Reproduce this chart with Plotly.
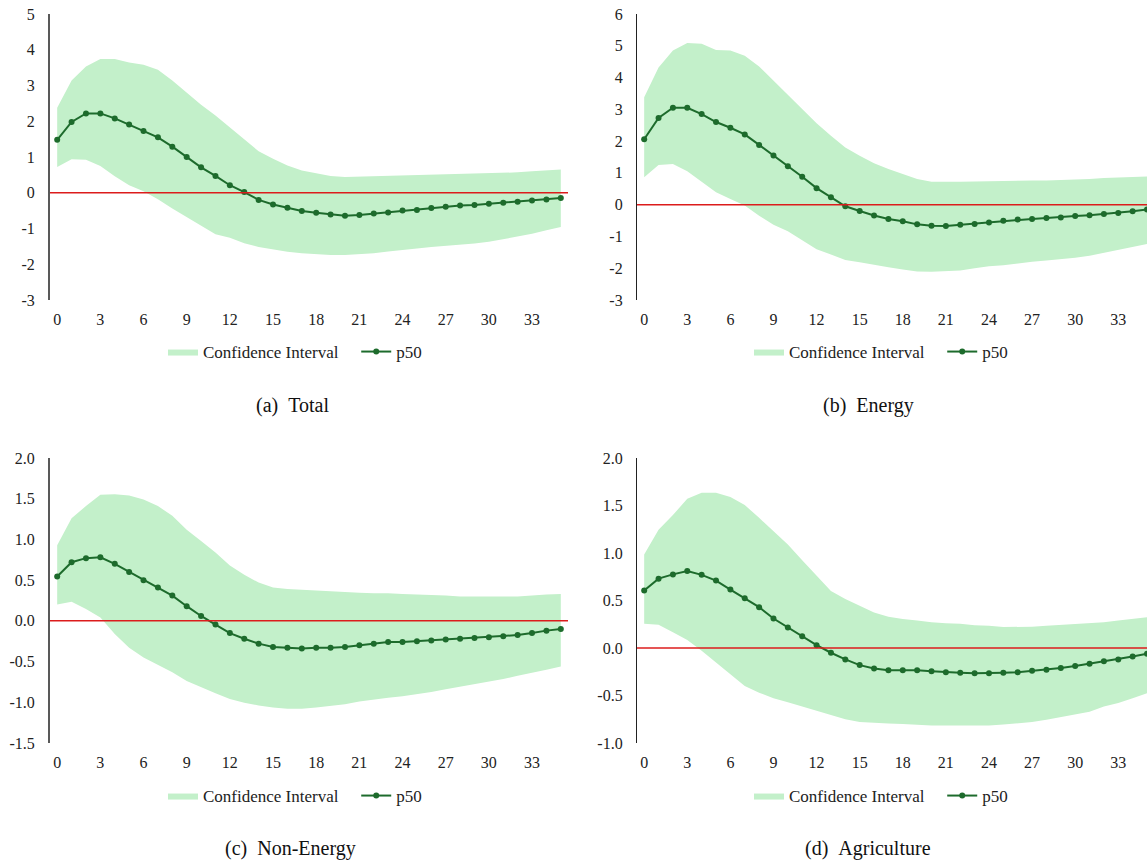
import plotly.graph_objects as go

periods = list(range(36))
tick_vals = list(range(0, 34, 3))

total_yticks = [-3, -2, -1, 0, 1, 2, 3, 4, 5]
total_ylabels = ["-3", "-2", "-1", "0", "1", "2", "3", "4", "5"]
energy_yticks = [-3, -2, -1, 0, 1, 2, 3, 4, 5, 6]
energy_ylabels = ["-3", "-2", "-1", "0", "1", "2", "3", "4", "5", "6"]
nonenergy_yticks = [-1.5, -1.0, -0.5, 0.0, 0.5, 1.0, 1.5, 2.0]
nonenergy_ylabels = ["-1.5", "-1.0", "-0.5", "0.0", "0.5", "1.0", "1.5", "2.0"]
agri_yticks = [-1.0, -0.5, 0.0, 0.5, 1.0, 1.5, 2.0]
agri_ylabels = ["-1.0", "-0.5", "0.0", "0.5", "1.0", "1.5", "2.0"]

total_p50 = [1.48, 1.98, 2.22, 2.22, 2.08, 1.91, 1.73, 1.55, 1.29, 1.00, 0.71, 0.47, 0.21, 0.02,
             -0.20, -0.33, -0.42, -0.51, -0.56, -0.61, -0.64, -0.62, -0.58, -0.55, -0.50, -0.48,
             -0.43, -0.39, -0.36, -0.34, -0.31, -0.28, -0.25, -0.22, -0.19, -0.15]
total_hi = [2.38, 3.14, 3.53, 3.74, 3.74, 3.64, 3.58, 3.44, 3.14, 2.81, 2.46, 2.16, 1.82, 1.48,
            1.16, 0.95, 0.76, 0.62, 0.55, 0.47, 0.44, 0.45, 0.46, 0.47, 0.48, 0.49, 0.50, 0.51,
            0.52, 0.53, 0.54, 0.55, 0.57, 0.60, 0.62, 0.65]
total_lo = [0.72, 0.94, 0.92, 0.75, 0.46, 0.21, 0.04, -0.18, -0.44, -0.68, -0.93, -1.16, -1.26,
            -1.41, -1.52, -1.59, -1.65, -1.69, -1.72, -1.74, -1.74, -1.72, -1.69, -1.64, -1.59,
            -1.56, -1.52, -1.49, -1.46, -1.42, -1.37, -1.30, -1.23, -1.15, -1.05, -0.96]

energy_p50 = [2.06, 2.73, 3.05, 3.05, 2.85, 2.60, 2.42, 2.21, 1.88, 1.55, 1.21, 0.88, 0.52, 0.23,
              -0.05, -0.20, -0.34, -0.45, -0.52, -0.62, -0.66, -0.67, -0.63, -0.61, -0.56, -0.51,
              -0.47, -0.45, -0.42, -0.40, -0.36, -0.33, -0.29, -0.26, -0.21, -0.15]
energy_hi = [3.38, 4.32, 4.85, 5.09, 5.06, 4.87, 4.85, 4.69, 4.35, 3.90, 3.43, 3.01, 2.56, 2.17,
             1.80, 1.54, 1.30, 1.12, 0.97, 0.81, 0.72, 0.71, 0.72, 0.73, 0.74, 0.76, 0.76, 0.76,
             0.76, 0.77, 0.79, 0.81, 0.84, 0.86, 0.88, 0.89]
energy_lo = [0.86, 1.25, 1.28, 1.05, 0.72, 0.39, 0.18, -0.03, -0.35, -0.63, -0.84, -1.13, -1.40,
             -1.57, -1.74, -1.81, -1.90, -1.97, -2.04, -2.10, -2.11, -2.09, -2.07, -2.00, -1.94,
             -1.91, -1.85, -1.80, -1.76, -1.72, -1.67, -1.61, -1.52, -1.43, -1.32, -1.24]

nonenergy_p50 = [0.545, 0.72, 0.77, 0.78, 0.70, 0.60, 0.50, 0.41, 0.31, 0.18, 0.06, -0.045, -0.15,
                 -0.22, -0.28, -0.32, -0.33, -0.34, -0.33, -0.33, -0.32, -0.30, -0.28, -0.26, -0.26,
                 -0.25, -0.24, -0.23, -0.22, -0.21, -0.20, -0.19, -0.175, -0.15, -0.12, -0.10]
nonenergy_hi = [0.93, 1.26, 1.41, 1.55, 1.555, 1.54, 1.49, 1.41, 1.29, 1.12, 0.98, 0.84, 0.68, 0.565,
                0.47, 0.41, 0.39, 0.38, 0.37, 0.36, 0.355, 0.345, 0.34, 0.34, 0.33, 0.325, 0.32,
                0.31, 0.30, 0.30, 0.30, 0.30, 0.30, 0.31, 0.325, 0.33]
nonenergy_lo = [0.20, 0.235, 0.145, 0.04, -0.16, -0.33, -0.45, -0.545, -0.63, -0.74, -0.82, -0.89,
                -0.96, -1.005, -1.04, -1.065, -1.08, -1.08, -1.065, -1.045, -1.025, -0.99, -0.965,
                -0.945, -0.925, -0.90, -0.875, -0.84, -0.81, -0.78, -0.75, -0.715, -0.675, -0.64,
                -0.60, -0.56]

agri_p50 = [0.605, 0.73, 0.775, 0.81, 0.77, 0.71, 0.615, 0.525, 0.43, 0.31, 0.215, 0.125, 0.03,
            -0.05, -0.12, -0.18, -0.215, -0.235, -0.235, -0.235, -0.245, -0.255, -0.26, -0.265,
            -0.265, -0.26, -0.255, -0.24, -0.23, -0.21, -0.19, -0.165, -0.14, -0.12, -0.09, -0.06]
agri_hi = [0.985, 1.245, 1.40, 1.57, 1.635, 1.635, 1.59, 1.505, 1.37, 1.23, 1.09, 0.925, 0.76, 0.60,
           0.515, 0.445, 0.375, 0.33, 0.305, 0.29, 0.27, 0.26, 0.255, 0.24, 0.235, 0.22, 0.22, 0.225,
           0.235, 0.245, 0.255, 0.26, 0.27, 0.29, 0.305, 0.325]
agri_lo = [0.255, 0.245, 0.165, 0.085, -0.03, -0.155, -0.285, -0.40, -0.47, -0.53, -0.57, -0.615,
           -0.655, -0.70, -0.75, -0.78, -0.79, -0.795, -0.80, -0.81, -0.815, -0.815, -0.815, -0.815,
           -0.815, -0.805, -0.795, -0.78, -0.755, -0.725, -0.70, -0.67, -0.615, -0.58, -0.53, -0.475]

captions = ["(a)\u00a0\u00a0Total", "(b)\u00a0\u00a0Energy", "(c)\u00a0\u00a0Non-Energy", "(d)\u00a0\u00a0Agriculture"]
band_name = "Confidence Interval"
mid_name = "p50"

W, H = 1147, 863
FONT = "Liberation Serif"
BAND = "#c3f0ca"
LINE = "#1d6b2c"
TXT = "#222222"

panels = [
    dict(lo=total_lo, hi=total_hi, mid=total_p50, yr=[-3, 5], tv=total_yticks, tt=total_ylabels,
         xd=[50, 568], yd=[14, 300], xr=[-0.5, 35.5], axc="#595959", axw=2, leg=(295, 352), cap=(292, 405)),
    dict(lo=energy_lo, hi=energy_hi, mid=energy_p50, yr=[-3, 6], tv=energy_yticks, tt=energy_ylabels,
         xd=[637, 1147], yd=[14, 300], xr=[-0.5, 35.0], axc="#222222", axw=1.2, leg=(881, 352), cap=(868, 405)),
    dict(lo=nonenergy_lo, hi=nonenergy_hi, mid=nonenergy_p50, yr=[-1.5, 2], tv=nonenergy_yticks, tt=nonenergy_ylabels,
         xd=[50, 568], yd=[458, 743], xr=[-0.5, 35.5], axc="#595959", axw=2, leg=(295, 796), cap=(290, 848)),
    dict(lo=agri_lo, hi=agri_hi, mid=agri_p50, yr=[-1, 2], tv=agri_yticks, tt=agri_ylabels,
         xd=[637, 1147], yd=[458, 743], xr=[-0.5, 35.0], axc="#222222", axw=1.2, leg=(881, 796), cap=(868, 848)),
]

fig = go.Figure()
layout = dict(width=W, height=H, margin=dict(l=0, r=0, t=0, b=0, autoexpand=False),
              template="none",
              paper_bgcolor="white", plot_bgcolor="white",
              font=dict(family=FONT, size=16, color=TXT), showlegend=True, hovermode=False)
shapes = []
annotations = []

for i, p in enumerate(panels):
    n = i + 1
    xa = "x" if n == 1 else f"x{n}"
    ya = "y" if n == 1 else f"y{n}"
    lg = "legend" if n == 1 else f"legend{n}"
    fig.add_trace(go.Scatter(x=periods, y=p["lo"], mode="lines", line=dict(width=0, color=BAND),
                             showlegend=False, hoverinfo="skip", xaxis=xa, yaxis=ya, legend=lg))
    fig.add_trace(go.Scatter(x=periods, y=p["hi"], mode="lines", line=dict(width=0, color=BAND),
                             fill="tonexty", fillcolor=BAND, name=band_name + "\u00a0\u00a0\u00a0",
                             xaxis=xa, yaxis=ya, legend=lg))
    fig.add_trace(go.Scatter(x=periods, y=p["mid"], mode="lines+markers", name=mid_name,
                             line=dict(color=LINE, width=2), marker=dict(color=LINE, size=6),
                             xaxis=xa, yaxis=ya, legend=lg))
    xkey = "xaxis" if n == 1 else f"xaxis{n}"
    ykey = "yaxis" if n == 1 else f"yaxis{n}"
    layout[xkey] = dict(domain=[p["xd"][0] / W, p["xd"][1] / W], range=p["xr"], anchor=ya,
                        tickmode="array", tickvals=tick_vals, showgrid=False, zeroline=False,
                        showline=False, ticks="", ticklabelstandoff=8, automargin=False,
                        tickfont=dict(family=FONT, size=16, color=TXT))
    layout[ykey] = dict(domain=[1 - p["yd"][1] / H, 1 - p["yd"][0] / H], range=p["yr"], anchor=xa,
                        tickmode="array", tickvals=p["tv"], ticktext=p["tt"],
                        showgrid=False, zeroline=False,
                        showline=True, linecolor=p["axc"], linewidth=p["axw"], ticks="",
                        ticklabelstandoff=10, automargin=False,
                        tickfont=dict(family=FONT, size=16, color=TXT))
    shapes.append(dict(type="line", xref=f"{xa} domain", yref=ya, x0=0, x1=1, y0=0, y1=0,
                       line=dict(color="#dc1c1c", width=1.5), layer="above"))
    layout[lg] = dict(orientation="h", x=p["leg"][0] / W, y=1 - p["leg"][1] / H,
                      xanchor="center", yanchor="middle", bgcolor="rgba(0,0,0,0)",
                      traceorder="normal",
                      font=dict(family=FONT, size=17, color=TXT), itemwidth=30,
                      tracegroupgap=0)
    annotations.append(dict(text=captions[i], xref="paper", yref="paper",
                            x=p["cap"][0] / W, y=1 - p["cap"][1] / H, xanchor="center",
                            yanchor="middle", showarrow=False,
                            font=dict(family=FONT, size=20, color="#111111")))

layout["shapes"] = shapes
layout["annotations"] = annotations
fig.update_layout(**layout)
fig.write_html("out.html")
